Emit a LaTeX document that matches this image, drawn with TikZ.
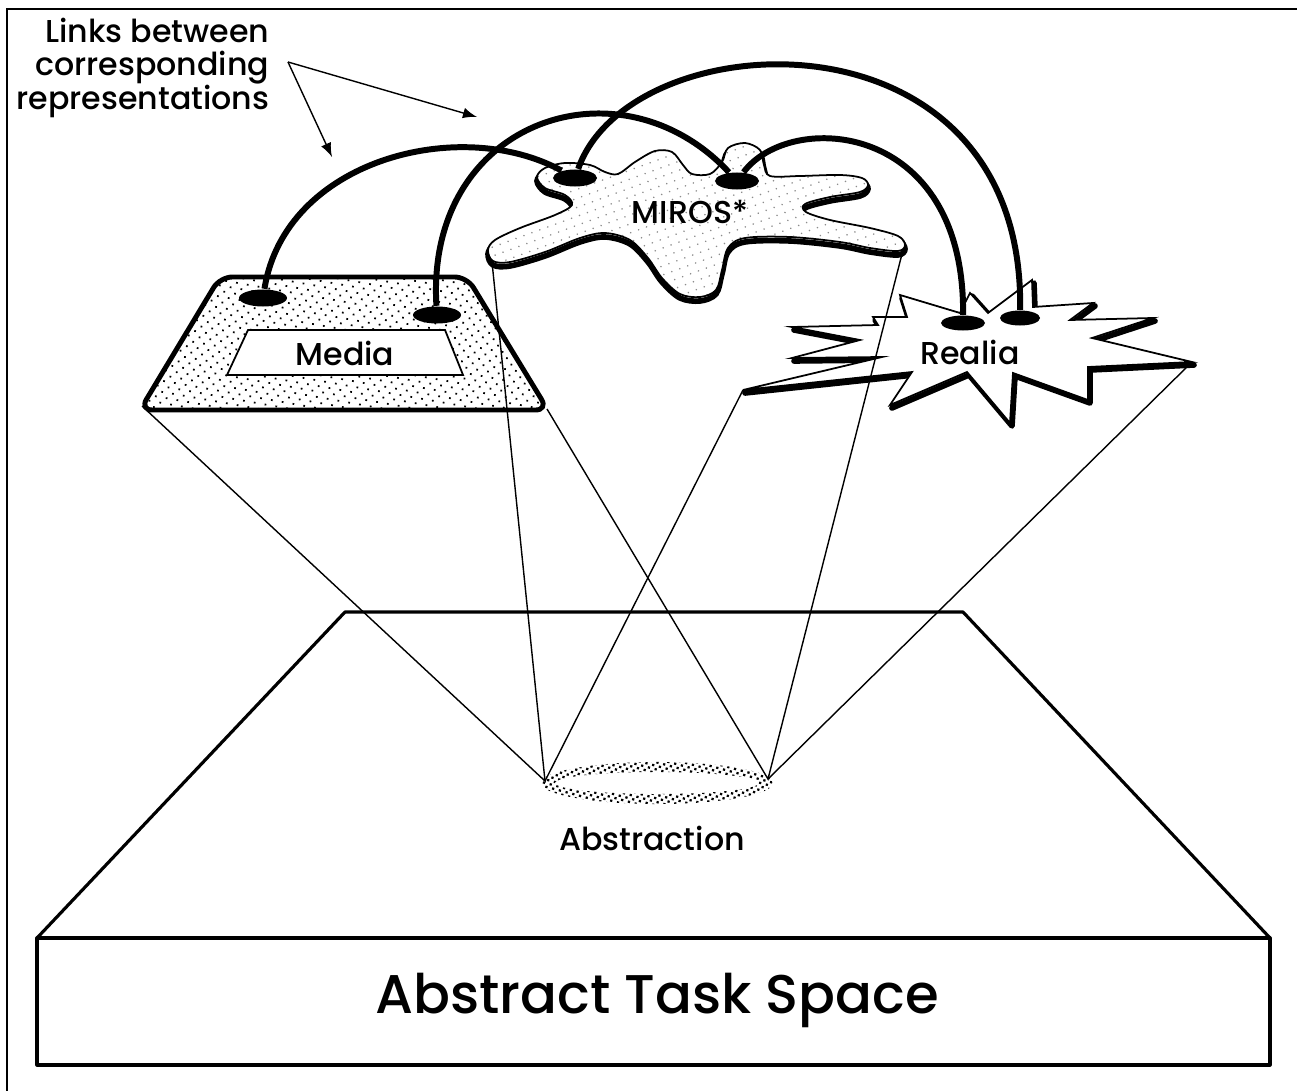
\documentclass[tikz,border=0pt]{standalone}
\usepackage{fontspec}
\setmainfont{Poppins}[UprightFont = {* Medium}]
\usetikzlibrary{shapes.geometric}
\usetikzlibrary{patterns.meta}

\newcommand{\mirosblob}[1]{\draw[#1] plot[smooth cycle, tension=0.55] coordinates {(537,177) (545,168) (565,163) (590,165) (605,172) (618,174) (635,162) (655,151) (672,152) (683,165) (692,174) (710,174) (722,162) (728,148) (745,143) (760,150) (764,165) (770,176) (800,176) (840,175) (862,178) (868,185) (860,192) (830,197) (805,204) (806,212) (830,220) (870,228) (898,236) (905,245) (898,251) (870,248) (840,242) (790,237) (745,238) (728,248) (722,270) (716,290) (700,297) (680,294) (662,278) (648,258) (630,240) (605,233) (580,238) (545,252) (510,262) (493,261) (488,250) (495,240) (520,228) (555,215) (572,205) (565,195) (545,188)};}
\newcommand{\realiastar}[1]{\draw[#1] (900,295) -- (960,313) -- (970,293) -- (988,313) -- (1032,280) -- (1033,307) -- (1093,303) -- (1070,320) -- (1153,318) -- (1092,338) -- (1192,362) -- (1088,367) -- (1088,400) -- (1013,373) -- (1010,423) -- (967,372) -- (890,405) -- (912,372) -- (743,390) -- (882,357) -- (792,358) -- (860,340) -- (792,327) -- (878,325) -- (873,317) -- (907,317) -- cycle;}

\begin{document}
\begin{tikzpicture}[x=0.01cm, y=-0.01cm]
  \tikzstyle{txt}=[inner sep = 0, font = \fontsize{9}{10}\selectfont]
  \tikzstyle{linkend}=[ellipse, fill = black, inner sep = 0, minimum width = 0.48cm, minimum height = 0.17cm]
  \tikzstyle{link}=[line width = 1.7pt]
  \tikzstyle{proj}=[line width = 0.4pt]
  \tikzstyle{slab}=[line width = 0.9pt, line join = round]
  \tikzstyle{pointer}=[-latex, line width = 0.4pt]

  \useasboundingbox (0,0) rectangle (1297,1091);
  \draw[line width = 0.8pt] (1297,9) -- (7,9) -- (7,1091);

  \draw[slab] (345,612) -- (963,612) -- (1270,938) -- (37,938) -- cycle;
  \draw[slab] (37,938) rectangle (1270,1065);
  \node[txt, font = \fontsize{15.5}{18}\selectfont] (space) at (657,1000) {Abstract Task Space};

  \fill[pattern = {Dots[distance = 1.4pt, radius = 0.45pt, angle = 30]}, even odd rule]
    (657,783) ellipse [x radius = 1.16cm, y radius = 0.21cm]
    (657,783) ellipse [x radius = 1.02cm, y radius = 0.11cm];
  \node[txt] (abs) at (652,838) {Abstraction};
  \coordinate (absL) at (545,781);
  \coordinate (absR) at (768,779);

  \draw[line width = 1.4pt, rounded corners = 3.5pt, preaction = {fill = white},
    pattern = {Dots[distance = 2.2pt, radius = 0.35pt, angle = 35]}]
    (220,277) -- (467,277) -- (548,410) -- (140,410) -- cycle;
  \draw[line width = 0.5pt, fill = white] (248,330) -- (445,330) -- (463,375) -- (227,375) -- cycle;
  \node[txt] (media) at (345,353) {Media};
  \coordinate (mediaL) at (142,406);
  \coordinate (mediaR) at (547,409);

  \realiastar{line width = 1.6pt, line join = round, shift = {(2,3)}}
  \realiastar{line width = 0.5pt, fill = white}
  \node[txt] (realia) at (970,352) {Realia};
  \coordinate (realiaL) at (743,390);
  \coordinate (realiaR) at (1192,362);

  \mirosblob{line width = 1.6pt, shift = {(0,4)}}
  \mirosblob{line width = 0.5pt, preaction = {fill = white}, pattern = {Dots[distance = 2.4pt, radius = 0.25pt, angle = 20]}, pattern color = black!45}
  \node[txt] (miros) at (690,212) {MIROS*};
  \coordinate (mirosL) at (492,262);
  \coordinate (mirosR) at (903,250);

  \draw[proj] (mediaL) -- (absL) -- (mirosL);
  \draw[proj] (absL) -- (realiaL);
  \draw[proj] (mediaR) -- (absR) -- (mirosR);
  \draw[proj] (absR) -- (realiaR);

  \node[linkend] (md1) at (263,298) {};
  \node[linkend] (md2) at (437,315) {};
  \node[linkend, minimum width = 0.44cm] (mr1) at (575,178) {};
  \node[linkend, minimum width = 0.44cm] (mr2) at (737,181) {};
  \node[linkend, minimum width = 0.44cm, minimum height = 0.15cm] (re1) at (963,323) {};
  \node[linkend, minimum width = 0.4cm, minimum height = 0.15cm] (re2) at (1020,318) {};

  \draw[link] (md1) .. controls (285,160) and (460,115) .. (mr1);
  \draw[link] (md2) .. controls (425,120) and (620,55) .. (mr2);
  \draw[link] (mr1) .. controls (630,20) and (1025,0) .. (re2);
  \draw[link] (mr2) .. controls (790,110) and (965,120) .. (re1);

  \node[txt, align = right, anchor = north east, font = \fontsize{9}{9.6}\selectfont] (links) at (270,17)
    {Links between\\corresponding\\representations};
  \coordinate (lk) at (288,62);
  \coordinate (tipA) at (477,117);
  \coordinate (tipB) at (332,157);
  \draw[pointer] (lk) -- (tipA);
  \draw[pointer] (lk) -- (tipB);
\end{tikzpicture}
\end{document}
